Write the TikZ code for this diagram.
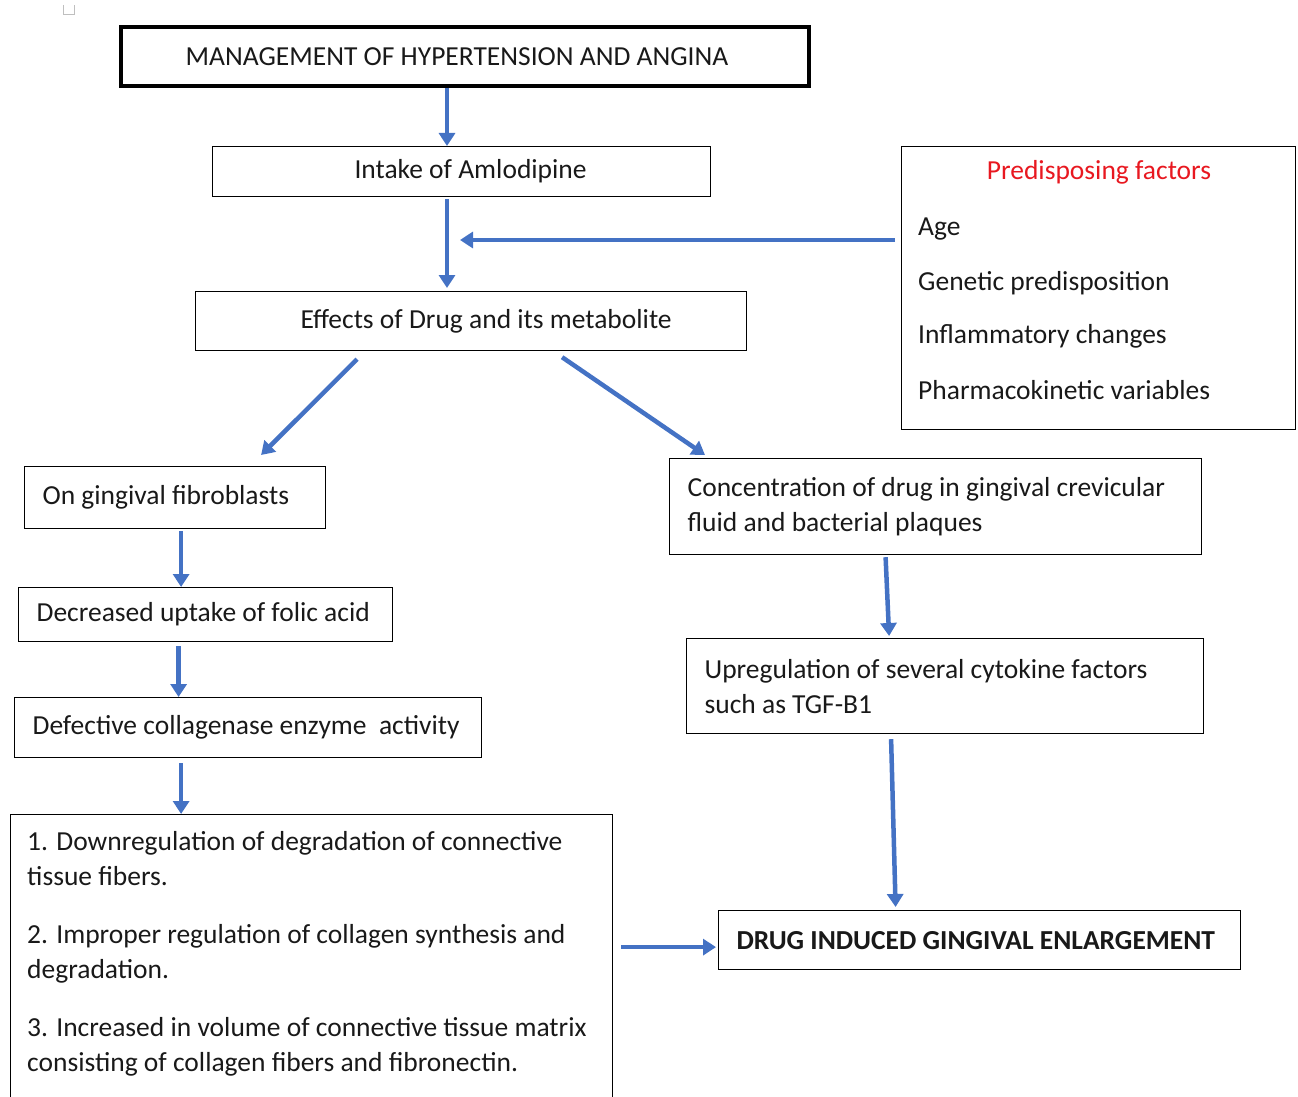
\documentclass[tikz,border=0pt]{standalone}
\usepackage{fontspec}
\setmainfont{Carlito}
\usetikzlibrary{arrows.meta,positioning,calc}
\definecolor{arrowblue}{RGB}{68,114,196}
\definecolor{factorred}{RGB}{232,24,32}

\begin{document}
\begin{tikzpicture}[x=1pt,y=-1pt,
  every node/.style={font=\fontsize{27.5}{35}\selectfont, text=black!90},
  box/.style={draw, line width=1.2pt, inner xsep=18pt, inner ysep=4pt, anchor=north west},
  arr/.style={arrowblue, line width=4.5pt, -{Triangle[length=13pt,width=16pt]}}]
  \useasboundingbox (0,0) rectangle (1298,1097);
  % small mark in the corner
  \draw[gray!50, line width=0.8pt] (63,5) -- (63,14) -- (74,14) -- (74,5);
  % Main column
  \node[box, line width=4pt, minimum width=688, minimum height=59] (title) at (119,25) {MANAGEMENT OF HYPERTENSION AND ANGINA\hspace*{16pt}};
  \node[box, minimum width=498, minimum height=50] (intake) at (212,146) {\hspace*{18pt}Intake of Amlodipine};
  \node[box, minimum width=551, minimum height=59] (effects) at (195,291) {\hspace*{30pt}Effects of Drug and its metabolite};
  \coordinate (spine) at (447,0);
  \draw[arr] (title.south -| spine) -- (intake.north -| spine);
  \draw[arr, shorten <=2pt, shorten >=3pt] (intake.south -| spine) -- (effects.north -| spine);
  % Predisposing factors
  \node[box, minimum width=394, minimum height=283] (pred) at (901,146) {};
  \node[text=factorred] (predhead) at (1099,172) {Predisposing factors};
  \node[anchor=west, inner sep=0] (age) at (918,229) {Age};
  \node[anchor=west, inner sep=0] (genetic) at (918,283) {Genetic predisposition};
  \node[anchor=west, inner sep=0] (inflam) at (918,336) {Inflammatory changes};
  \node[anchor=west, inner sep=0] (pharma) at (918,390) {Pharmacokinetic variables};
  \coordinate (merge) at (460,240);
  \draw[arr, shorten <=6pt] (pred.west |- merge) -- (merge);
  % Left branch
  \node[box, minimum width=301, minimum height=62, text width=265, align=flush left] (fibro) at (24,466) {On gingival fibroblasts};
  \node[box, minimum width=374, minimum height=54, text width=338, align=flush left] (folic) at (18,587) {\mbox{Decreased uptake of folic acid}};
  \node[box, minimum width=467, minimum height=60, text width=431, align=flush left] (collag) at (14,697) {Defective collagenase enzyme~ activity};
  \node[box, minimum width=602, minimum height=300] (mech) at (10,814) {};
  \node[anchor=north west, align=flush left, inner sep=0] (mechtext) at (27,831) {1. Downregulation of degradation of connective\\tissue fibers.\\[23pt]2. Improper regulation of collagen synthesis and\\degradation.\\[23pt]3. Increased in volume of connective tissue matrix\\consisting of collagen fibers and fibronectin.};
  \draw[arr] ([xshift=-114pt,yshift=-8pt]effects.south) -- ([xshift=86pt,yshift=11pt]fibro.north);
  \draw[arr] ([xshift=6pt,yshift=-2pt]fibro.south) -- ([xshift=6pt]fibro.south |- folic.north);
  \draw[arr] ([xshift=-27pt,yshift=-4pt]folic.south) -- ([xshift=-27pt]folic.south |- collag.north);
  \draw[arr] ([xshift=-67pt,yshift=-5pt]collag.south) -- ([xshift=-67pt]collag.south |- mech.north);
  % Right branch
  \node[box, minimum width=532, minimum height=96, text width=496, align=flush left] (conc) at (669,458) {Concentration of drug in gingival crevicular\\fluid and bacterial plaques};
  \node[box, minimum width=517, minimum height=95, text width=481, align=flush left] (cyto) at (686,638) {Upregulation of several cytokine factors\\such as TGF-B1};
  \node[box, minimum width=522, minimum height=59, text width=486, align=flush left, font=\fontsize{27.5}{35}\selectfont\bfseries] (dige) at (718,910) {DRUG INDUCED GINGIVAL ENLARGEMENT};
  \draw[arr] ([xshift=91pt,yshift=-6pt]effects.south) -- ([xshift=36pt,yshift=3pt]conc.north west);
  \draw[arr] ([xshift=-50pt,yshift=-2pt]conc.south) -- ([xshift=-56pt,yshift=2pt]cyto.north);
  \draw[arr] ([xshift=-54pt,yshift=-5pt]cyto.south) -- ([xshift=-84pt,yshift=3pt]dige.north);
  \draw[arr, shorten <=8pt, shorten >=2pt] ([yshift=-7pt]dige.west -| mech.east) -- ([yshift=-7pt]dige.west);
\end{tikzpicture}
\end{document}
